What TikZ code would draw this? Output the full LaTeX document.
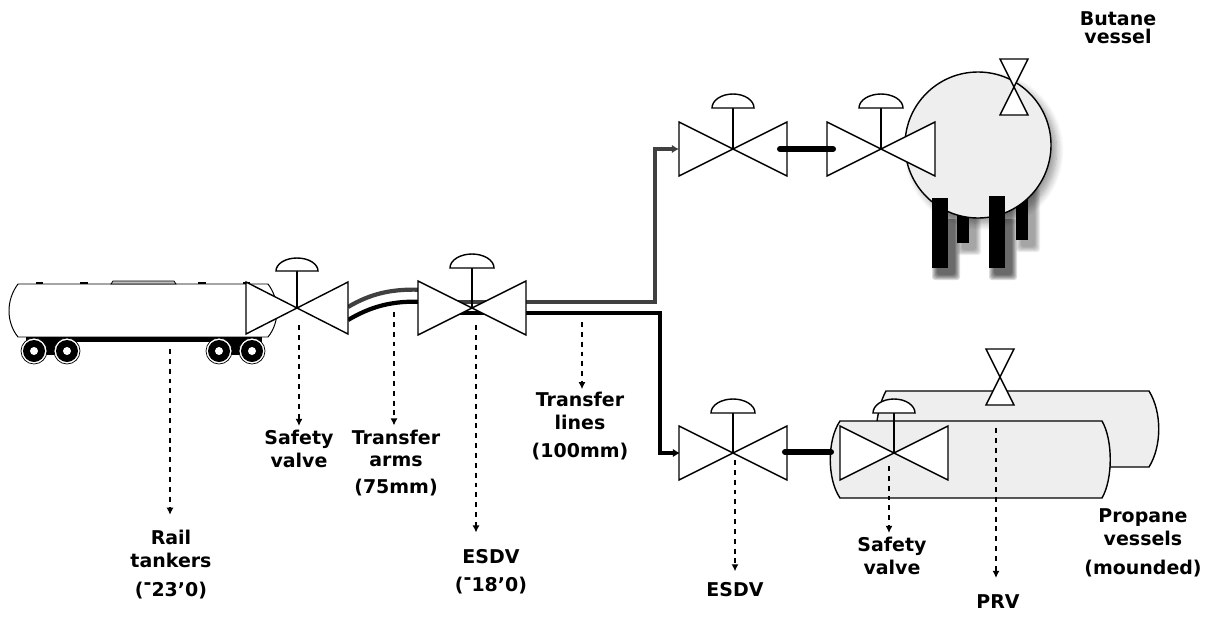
\documentclass[tikz,border=0pt]{standalone}
\usepackage{fontspec}
\setmainfont{DejaVu Sans}
\usepackage{xcolor}
\usepackage{tikz}
\usetikzlibrary{arrows.meta,calc,shadows.blur}
\definecolor{Ink}{HTML}{000000}
\definecolor{PipeGray}{HTML}{404040}
\definecolor{VesselFill}{HTML}{EEEEEE}
\tikzset{
  valvebody/.style={draw=Ink,fill=white,line width=1pt,line join=miter},
  valvestem/.style={draw=Ink,line width=1pt},
  vessel/.style={draw=Ink,fill=VesselFill,line width=1pt},
  softshadow/.style={blur shadow={shadow xshift=4pt,shadow yshift=-4pt,shadow blur radius=5pt,shadow blur steps=10,shadow opacity=40}},
  tankshell/.style={draw=Ink,fill=white,line width=0.7pt},
  legshadow/.style={fill=black,opacity=0.07,rounded corners=2pt},
  grayline/.style={draw=PipeGray,line width=3pt},
  blackline/.style={draw=Ink,line width=3pt},
  feedtip/.style={-{Latex[length=5pt,width=6pt]}},
  linkbar/.style={draw=Ink,line width=4.3pt,line cap=round},
  leader/.style={draw=Ink,line width=0.9pt,dash pattern=on 3.5pt off 3.5pt,-{Latex[length=5pt,width=5pt]}},
  tag/.style={align=center,font=\fontsize{13.5}{16}\selectfont\bfseries,inner sep=0pt,text=Ink}
}
\begin{document}
\begin{tikzpicture}[x=0.025cm,y=-0.025cm]
  \useasboundingbox (0,0) rectangle (1211,619);

  % butane vessel
  \foreach \lx/\ly/\rx/\ry in {957/200/969/243,1016/180/1028/240,932/198/948/268,989/196/1005/268}
    \foreach \g in {1,...,6}
      \fill[legshadow] (\lx+6-\g,\ly+8) rectangle (\rx+6+\g,\ry+6+\g);
  \fill[Ink] (957,200) rectangle (969,243);
  \fill[Ink] (1016,180) rectangle (1028,240);
  \draw[vessel,softshadow] (978,145) circle[radius=73];
  \foreach \lx/\rx/\ty in {932/948/198,989/1005/196}
    \foreach \g in {1,...,6}
      \fill[legshadow] (\lx+6-\g,219) rectangle (\rx+6+\g,268+6+\g);
  \fill[Ink] (932,198) rectangle (948,268);
  \fill[Ink] (989,196) rectangle (1005,268);

  % propane vessels
  \draw[vessel] (886,391) -- (1149,391) .. controls (1162,412) and (1162,446) .. (1149,467) -- (1100,467) -- (880,467) -- (877,421) .. controls (879,408) and (882,398) .. (886,391) -- cycle;
  \draw[vessel] (840,421) -- (1102,421) .. controls (1113,440) and (1113,479) .. (1102,498) -- (840,498) .. controls (827,479) and (827,440) .. (840,421) -- cycle;

  % rail tanker
  \draw[tankshell] (18,284) -- (268,284) .. controls (280,300) and (280,322) .. (268,337) -- (18,337) .. controls (6,322) and (6,300) .. (18,284) -- cycle;
  \draw[draw=Ink,fill=lightgray,line width=0.5pt] (111,284) -- (113,281) -- (174,281) -- (176,284) -- cycle;
  \foreach \bx/\bw in {36/7,80/8,198/8,243/7}
    \fill[Ink] (\bx,282) rectangle ++(\bw,2);
  \fill[Ink] (26,337) rectangle (262,342);
  \fill[Ink] (34,342) rectangle (67,355);
  \fill[Ink] (219,342) rectangle (252,355);
  \foreach \wx in {34,67,219,252} {
    \draw[Ink,fill=white,line width=0.5pt] (\wx,351) circle[radius=13];
    \fill[Ink] (\wx,351) circle[radius=11];
    \fill[white] (\wx,351) circle[radius=4];
  }

  \coordinate (SVA) at (297,308);
  \coordinate (EDA) at (472,308);
  \coordinate (BUA) at (733,149);
  \coordinate (BUB) at (881,149);
  \coordinate (PRA) at (733,453);
  \coordinate (PRB) at (894,453);

  % pipework
  \coordinate (ArmG) at (348,307);
  \coordinate (ArmK) at (348,320);
  \coordinate (GrayStart) at (445,302);
  \coordinate (BlackStart) at (445,313);
  \coordinate (GrayEnd) at (679,149);
  \coordinate (BlackEnd) at (680,453);
  \draw[grayline] (ArmG) .. controls (370,294) and (392,288) .. (425,290);
  \draw[blackline] (ArmK) .. controls (370,307) and (392,300) .. (425,302);
  \draw[grayline,feedtip] (GrayStart) -- (655,302) -- (655,149) -- (GrayEnd);
  \draw[blackline,feedtip] (BlackStart) -- (660,313) -- (660,453) -- (BlackEnd);

  % control valves
  \foreach \vname/\hw/\hh/\stem/\dw/\dh in {SVA/51/26/37/21/13,EDA/54/27/40/22/14,BUA/54/27/41/21/14,BUB/54/27/41/22/14,PRA/54/27/40/22/14,PRB/54/27/40/21/14} {
    \draw[valvebody] (\vname) -- ++(-\hw,-\hh) -- ++(0,2*\hh) -- cycle;
    \draw[valvebody] (\vname) -- ++(\hw,-\hh) -- ++(0,2*\hh) -- cycle;
    \draw[valvestem] (\vname) -- ++(0,-\stem);
    \draw[valvebody] ($(\vname)+(-\dw,-\stem)$) arc[start angle=180,end angle=360,x radius=\dw,y radius=\dh] -- cycle;
  }
  \draw[linkbar] ($(BUA)+(47,0)$) -- ($(BUB)+(-48,0)$);
  \draw[linkbar] ($(PRA)+(52,-1)$) -- ($(PRB)+(-63,-1)$);

  % relief valves
  \coordinate (RVA) at (1014,87);
  \coordinate (RVB) at (1000,377);
  \foreach \vname in {RVA,RVB} {
    \draw[valvebody] (\vname) -- ++(-14,-28) -- ++(28,0) -- cycle;
    \draw[valvebody] (\vname) -- ++(-14,28) -- ++(28,0) -- cycle;
  }

  % labels
  \node[tag] (butane) at (1118,28) {Butane\\[-3pt]vessel};
  \node[tag] (rail) at (171,565) {Rail\\tankers\\[5pt](\raisebox{.7ex}{-}23'0)};
  \node[tag] (safetya) at (299,449) {Safety\\valve};
  \node[tag] (arms) at (396,463) {Transfer\\arms\\[3pt](75mm)};
  \node[tag] (esdva) at (491,572) {ESDV\\[4pt](\raisebox{.7ex}{-}18'0)};
  \node[tag] (lines) at (580,426) {Transfer\\lines\\[4pt](100mm)};
  \node[tag] (esdvb) at (735,590) {ESDV};
  \node[tag] (safetyb) at (892,556) {Safety\\valve};
  \node[tag] (prv) at (998,602) {PRV};
  \node[tag] (propane) at (1143,543) {Propane\\vessels\\[5pt](mounded)};

  % leaders
  \coordinate (RailTop) at (170,349);
  \coordinate (SafeTop) at (299,325);
  \coordinate (ArmTop) at (394,312);
  \coordinate (EsdTop) at (476,325);
  \coordinate (LineTop) at (582,322);
  \coordinate (EsbTop) at (735,460);
  \coordinate (SfbTop) at (889,466);
  \coordinate (PrvTop) at (996,428);
  \draw[leader,shorten >=11pt] (RailTop) -- (RailTop |- rail.north);
  \draw[leader,shorten >=3pt] (SafeTop) -- (SafeTop |- safetya.north);
  \draw[leader,shorten >=3pt] (ArmTop) -- (ArmTop |- arms.north);
  \draw[leader,shorten >=12pt] (EsdTop) -- (EsdTop |- esdva.north);
  \draw[leader,shorten >=2pt] (LineTop) -- (LineTop |- lines.north);
  \draw[leader,shorten >=8pt] (EsbTop) -- (EsbTop |- esdvb.north);
  \draw[leader,shorten >=3pt] (SfbTop) -- (SfbTop |- safetyb.north);
  \draw[leader,shorten >=12pt] (PrvTop) -- (PrvTop |- prv.north);
\end{tikzpicture}
\end{document}
